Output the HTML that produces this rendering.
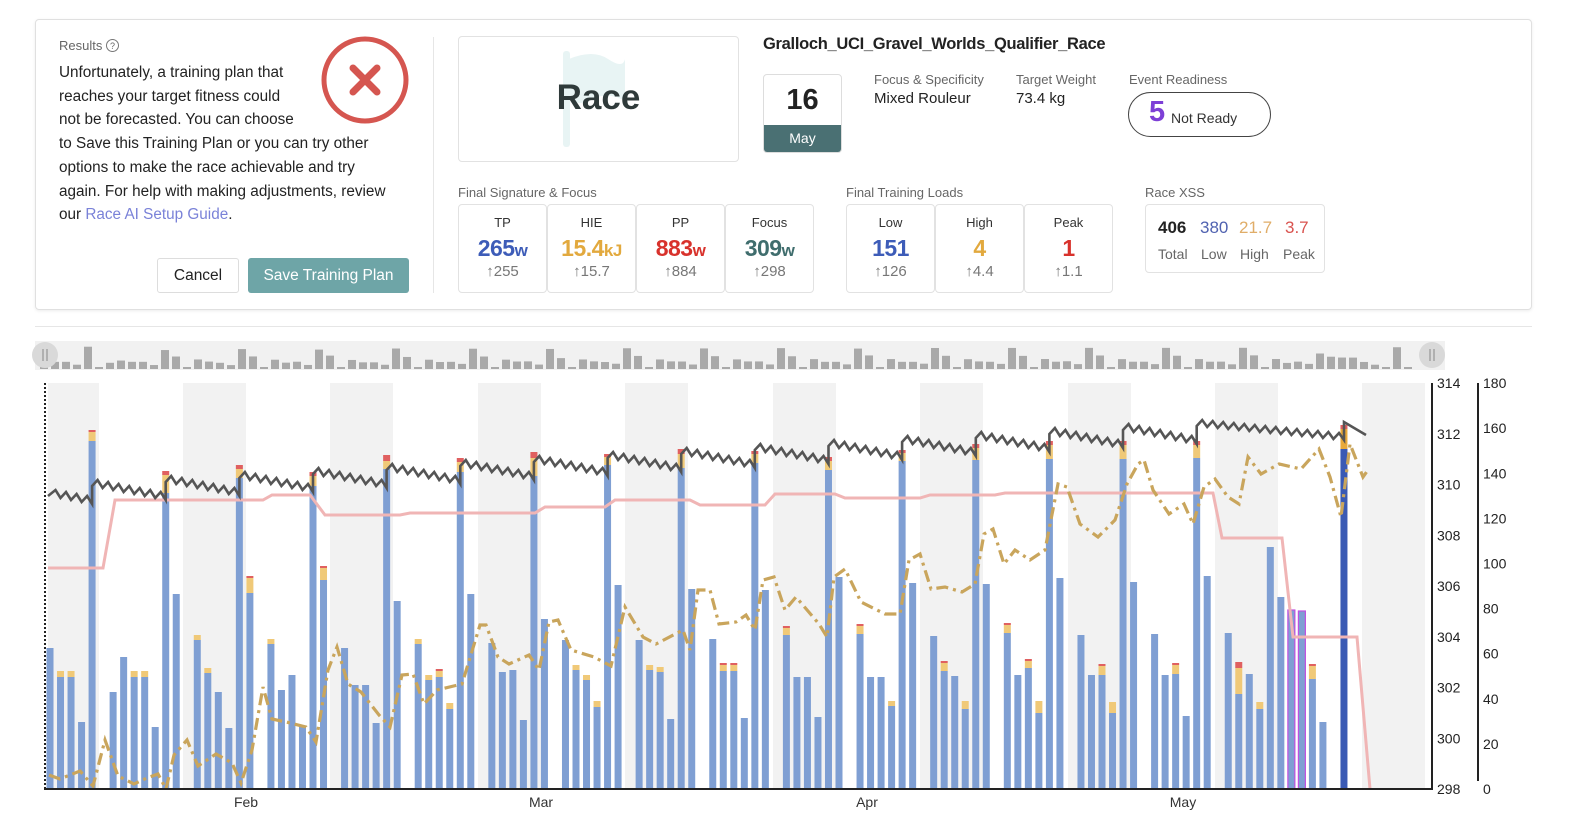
<!DOCTYPE html>
<html><head><meta charset="utf-8">
<style>
*{box-sizing:border-box;margin:0;padding:0}
body{width:1583px;height:832px;background:#fff;font-family:"Liberation Sans",sans-serif;color:#222;position:relative;overflow:hidden}
.a{position:absolute;white-space:nowrap}
.card{position:absolute;border:1px solid #e2e2e2;border-radius:4px;background:#fff;text-align:center}
.lbl{font-size:13px;color:#333;position:absolute;left:0;right:0;top:10px}
.val{font-size:23px;font-weight:bold;position:absolute;left:0;right:0;top:30px;letter-spacing:-0.5px}
.val small{font-size:17px}
.sub{font-size:15px;color:#777;position:absolute;left:0;right:0;top:58px}
.g{color:#666;font-size:13px}
</style></head><body>
<div class="a" style="left:35px;top:19px;width:1497px;height:291px;border:1px solid #e0e0e0;border-radius:4px;box-shadow:0 1px 3px rgba(0,0,0,.08)"></div>
<div class="a" style="left:35px;top:326px;width:1497px;height:1px;background:#e6e6e6"></div>

<div class="a g" style="left:59px;top:38px">Results <span style="display:inline-block;width:13px;height:13px;border:1px solid #777;border-radius:50%;font-size:9px;text-align:center;line-height:12px;vertical-align:1px">?</span></div>
<div class="a" style="left:59px;top:61px;font-size:15.3px;line-height:23.7px;color:#222">Unfortunately, a training plan that<br>reaches your target fitness could<br>not be forecasted. You can choose<br>to Save this Training Plan or you can try other<br>options to make the race achievable and try<br>again. For help with making adjustments, review<br>our <span style="color:#7a82d8">Race AI Setup Guide</span>.</div>
<svg class="a" style="left:320px;top:35px" width="92" height="92"><circle cx="45" cy="45" r="41" fill="none" stroke="#d55650" stroke-width="5"/><path d="M33 33L57 57M57 33L33 57" stroke="#d55650" stroke-width="7" stroke-linecap="round"/></svg>
<div class="a" style="left:157px;top:258px;width:82px;height:35px;border:1px solid #ddd;border-radius:3px;font-size:15.5px;text-align:center;line-height:33px">Cancel</div>
<div class="a" style="left:248px;top:258px;width:161px;height:35px;background:#6ea5a7;border-radius:3px;font-size:15.5px;color:#fff;text-align:center;line-height:35px">Save Training Plan</div>
<div class="a" style="left:433px;top:37px;width:1px;height:256px;background:#e6e6e6"></div>

<div class="card" style="left:458px;top:36px;width:281px;height:126px">
<svg style="position:absolute;left:104px;top:12px" width="70" height="100"><rect x="0" y="2" width="7" height="96" rx="3" fill="#e8f4f4"/><path d="M6 10Q30 0 45 10T62 10V52Q45 42 30 50T6 50Z" fill="#e8f4f4"/></svg>
<div style="position:absolute;left:0;right:0;top:41px;font-size:35px;font-weight:bold;color:#2f3a3a">Race</div></div>
<div class="a" style="left:763px;top:35px;font-size:16.5px;font-weight:bold;letter-spacing:-0.3px">Gralloch_UCI_Gravel_Worlds_Qualifier_Race</div>
<div class="a" style="left:763px;top:74px;width:79px;height:79px;border:1px solid #ddd;border-radius:4px;overflow:hidden;text-align:center">
<div style="font-size:29px;font-weight:bold;margin-top:9px">16</div>
<div style="position:absolute;left:0;right:0;bottom:0;height:27px;background:#4a7073;color:#fff;font-size:14px;line-height:27px">May</div></div>
<div class="a g" style="left:874px;top:72px">Focus &amp; Specificity</div>
<div class="a" style="left:874px;top:90px;font-size:15px">Mixed Rouleur</div>
<div class="a g" style="left:1016px;top:72px">Target Weight</div>
<div class="a" style="left:1016px;top:90px;font-size:15px">73.4 kg</div>
<div class="a g" style="left:1129px;top:72px">Event Readiness</div>
<div class="a" style="left:1128px;top:92px;width:143px;height:45px;border:1px solid #444;border-radius:23px"><span class="a" style="left:20px;top:3px;font-size:29px;font-weight:bold;color:#7d3fd6">5</span><span class="a" style="left:42px;top:17px;font-size:14px;color:#333">Not Ready</span></div>

<div class="a g" style="left:458px;top:185px">Final Signature &amp; Focus</div>
<div class="a g" style="left:846px;top:185px">Final Training Loads</div>
<div class="a g" style="left:1145px;top:185px">Race XSS</div>

<div class="card" style="left:458px;top:204px;width:89px;height:89px"><div class="lbl">TP</div><div class="val" style="color:#3d5cb8">265<small>w</small></div><div class="sub">↑255</div></div>
<div class="card" style="left:547px;top:204px;width:89px;height:89px"><div class="lbl">HIE</div><div class="val" style="color:#e2a93e">15.4<small>kJ</small></div><div class="sub">↑15.7</div></div>
<div class="card" style="left:636px;top:204px;width:89px;height:89px"><div class="lbl">PP</div><div class="val" style="color:#d8322c">883<small>w</small></div><div class="sub">↑884</div></div>
<div class="card" style="left:725px;top:204px;width:89px;height:89px"><div class="lbl">Focus</div><div class="val" style="color:#3f6d6d">309<small>w</small></div><div class="sub">↑298</div></div>
<div class="card" style="left:846px;top:204px;width:89px;height:89px"><div class="lbl">Low</div><div class="val" style="color:#3d5cb8">151</div><div class="sub">↑126</div></div>
<div class="card" style="left:935px;top:204px;width:89px;height:89px"><div class="lbl">High</div><div class="val" style="color:#e2a93e">4</div><div class="sub">↑4.4</div></div>
<div class="card" style="left:1024px;top:204px;width:89px;height:89px"><div class="lbl">Peak</div><div class="val" style="color:#d8322c">1</div><div class="sub">↑1.1</div></div>
<div class="card" style="left:1145px;top:204px;width:180px;height:69px">
<span class="a" style="left:12px;top:13px;font-size:17px;font-weight:bold">406</span>
<span class="a" style="left:54px;top:13px;font-size:17px;color:#5062b0">380</span>
<span class="a" style="left:93px;top:13px;font-size:17px;color:#e0ad68">21.7</span>
<span class="a" style="left:139px;top:13px;font-size:17px;color:#d9534f">3.7</span>
<span class="a" style="left:12px;top:41px;font-size:14px;color:#666">Total</span>
<span class="a" style="left:55px;top:41px;font-size:14px;color:#666">Low</span>
<span class="a" style="left:94px;top:41px;font-size:14px;color:#666">High</span>
<span class="a" style="left:137px;top:41px;font-size:14px;color:#666">Peak</span></div>

<svg id="ch" class="a" style="left:0;top:0" width="1583" height="832"></svg>
<script>
var s='';
function X(d){return 50+d*10.52}
function NX(d){return 44+d*11.0}
s+='<rect x="35" y="341" width="1410" height="29" fill="#f1f1f1"/>';
var B={0:[648],1:[677,6],2:[677,6],3:[722],4:[441,9,2],6:[692],7:[657],8:[677,6],9:[677,6],10:[727],11:[493,18,4],12:[594],
14:[640,5],15:[673,5],16:[692],17:[728],18:[478,9,4],19:[593,15,2],21:[644,5],22:[690],23:[675],24:[726],25:[486,10,4],26:[580,12,2],
28:[648],29:[685],30:[685],31:[723],32:[469,8,6],33:[601],35:[644,5],36:[680,5],37:[677,6,2],38:[709,6],39:[472,10,4],40:[594],
42:[643],43:[672],44:[670],45:[720],46:[476,18,6],47:[619],49:[640],50:[670,5],51:[680,5],52:[707,6],53:[465,8,3],54:[585],
56:[640],57:[670,5],58:[672,5],59:[719],60:[468,14,5],61:[589],63:[639],64:[671,6,2],65:[671,6,2],66:[718],67:[463,9,3],68:[590],
70:[635,7,2],71:[677],72:[677],73:[717],74:[470,9,4],75:[577],77:[634,8,2],78:[677],79:[677],80:[706,5],81:[461,8,3],82:[583],
84:[636],85:[671,8,2],86:[676],87:[709,8],88:[460,12,4],89:[584],91:[633,8,2],92:[675],93:[668,7,2],94:[713,12],95:[459,14,4],96:[578],
98:[635],99:[675],100:[675,9,2],101:[713,11],102:[459,14,4],103:[582],105:[634],106:[675],107:[674,9,2],108:[716],109:[458,13,4],110:[576],
112:[633],113:[694,26,6],114:[674],115:[709,7],116:[547],117:[597],118:[610],119:[611],120:[679,13,2],121:[722],123:[449,20,4]};
for(var d=0;d<=124;d++){var x=NX(d);var b=B[d];if(b){var h=Math.max(3,(789-b[0])/406*26);s+='<rect x="'+(x-4)+'" y="'+(369-h)+'" width="8" height="'+h+'" fill="#a9a9a9"/>'}else{s+='<rect x="'+(x-4)+'" y="367" width="8" height="2" fill="#a9a9a9"/>'}}
[45,1432].forEach(function(c){s+='<circle cx="'+c+'" cy="355" r="13" fill="#d9d9d9"/><path d="M'+(c-2)+' 349v12M'+(c+2)+' 349v12" stroke="#888" stroke-width="1"/>'});
[[48,99],[183,246],[330,393],[478,541],[625,688],[773,836],[920,983],[1068,1131],[1215,1278],[1362,1425]].forEach(function(r){s+='<rect x="'+r[0]+'" y="383" width="'+(r[1]-r[0])+'" height="406" fill="#f2f2f2"/>'});
for(var d in B){var b=B[d],x=X(+d),t=b[0];var blue=(+d==123)?'#3a5ab4':'#7f9fd3';
s+='<rect x="'+(x-3.5)+'" y="'+t+'" width="7" height="'+(789-t)+'" fill="'+blue+'"'+((d==118||d==119)?' stroke="#c050e0" stroke-width="1.2"':'')+'/>';
if(b[1]){s+='<rect x="'+(x-3.5)+'" y="'+(t-b[1])+'" width="7" height="'+b[1]+'" fill="'+(d==123?'#e8a93a':'#f0c978')+'"/>'}
if(b[2]){s+='<rect x="'+(x-3.5)+'" y="'+(t-b[1]-b[2])+'" width="7" height="'+b[2]+'" fill="#e06060"/>'}}
s+='<polyline fill="none" stroke="#f0b5b5" stroke-width="3" points="48,568 103,568 115,500 263,500 272,495 310,495 325,515 400,515 410,513 535,513 545,507 605,507 615,500 690,500 700,505 765,505 775,494 835,494 845,498 920,498 930,495 995,495 1005,493 1213,493 1222,538 1282,538 1293,637 1357,637 1370,789"/>';
s+='<polyline fill="none" stroke="#c9a55c" stroke-width="3.2" stroke-dasharray="12,5,3,5" points="49,775 60,779 80,771 93,786 105,740 118,776 134,784 147,778 158,774 166,789 174,755 187,740 198,766 216,754 232,763 241,783 252,750 263,687 272,719 286,722 306,727 316,742 328,670 337,647 348,684 361,692 379,715 390,727 402,675 413,674 424,704 437,690 462,684 480,625 486,625 498,657 509,664 529,655 539,670 549,622 558,620 571,650 594,657 611,666 625,607 643,637 656,644 683,630 690,650 698,590 710,590 719,624 736,622 746,615 755,630 763,580 774,577 785,610 796,597 819,624 827,637 834,577 845,569 861,602 885,614 900,614 909,560 920,554 931,589 945,587 962,592 975,584 984,534 993,529 1004,564 1015,550 1030,560 1045,550 1058,484 1067,487 1080,524 1098,537 1115,520 1127,484 1138,464 1144,460 1153,490 1169,514 1184,504 1193,524 1204,487 1215,479 1228,497 1239,504 1248,457 1261,474 1279,464 1301,469 1319,449 1330,477 1341,517 1350,444 1363,477 1368,470"/>';
var p=[],y=496;p.push([48,y]);
for(var d=1;d<=125;d++){var x=X(d);
 var net=(d>109)?1.0:2.0;
 p.push([x-5,y-6]); y+=net; p.push([x,y]);
 if(d%7==4&&d<=109||d==123){var J=18;y-=J;p.push([x,y]);if(d==123){p.push([x+22,y+13]);break}}
}
s+='<polyline fill="none" stroke="#555" stroke-width="2.6" points="'+p.map(function(q){return q[0].toFixed(1)+','+q[1].toFixed(1)}).join(' ')+'"/>';
s+='<line x1="45" y1="383" x2="45" y2="789" stroke="#222" stroke-width="2" stroke-dasharray="2,2"/>';
s+='<line x1="44" y1="789" x2="1433" y2="789" stroke="#222" stroke-width="2"/>';
s+='<line x1="1432" y1="383" x2="1432" y2="790" stroke="#222" stroke-width="2"/>';
s+='<line x1="1478" y1="383" x2="1478" y2="781" stroke="#222" stroke-width="2"/>';
for(var i=0;i<=8;i++){var yy=789-i*50.75;s+='<text x="1437" y="'+(yy+5)+'" font-size="14" fill="#222" font-family="Liberation Sans">'+(298+2*i)+'</text>';}
for(var i=0;i<=9;i++){var yy=789-i*45.1;s+='<text x="1483" y="'+(yy+5)+'" font-size="14" fill="#222" font-family="Liberation Sans">'+(20*i)+'</text>';}
[['Feb',246],['Mar',541],['Apr',867],['May',1183]].forEach(function(m){s+='<text x="'+m[1]+'" y="807" text-anchor="middle" font-size="14" fill="#333" font-family="Liberation Sans">'+m[0]+'</text>'});
document.getElementById('ch').innerHTML=s;
</script>
</body></html>
